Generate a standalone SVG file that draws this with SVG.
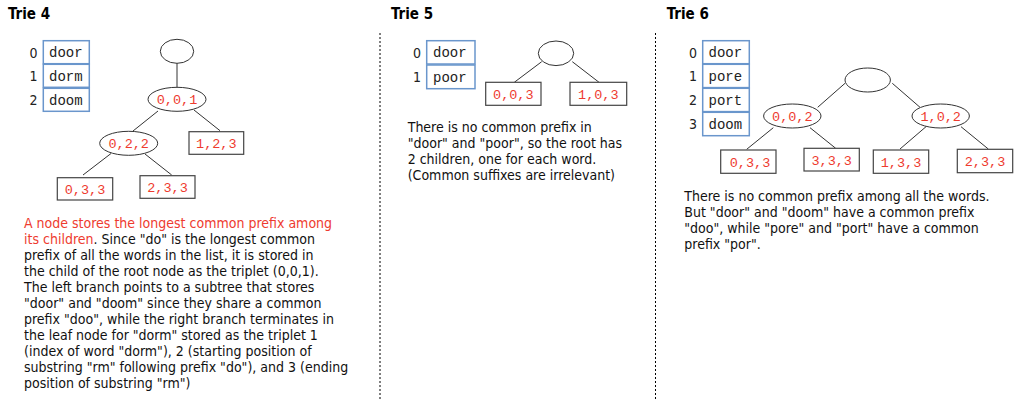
<svg xmlns="http://www.w3.org/2000/svg" width="1024" height="401" viewBox="0 0 1024 401">
<style>
.title{font-family:"DejaVu Sans Condensed","DejaVu Sans",sans-serif;font-stretch:condensed;font-weight:bold;font-size:15px;fill:#000}
.body{font-family:"DejaVu Sans Condensed","DejaVu Sans",sans-serif;font-stretch:condensed;font-size:14px;fill:#111}
.idx{font-family:"DejaVu Sans Condensed","DejaVu Sans",sans-serif;font-stretch:condensed;font-size:14px;fill:#222}
.red{fill:#ee3b2f}
.word{font-family:"Liberation Mono",monospace;font-size:14px;fill:#222}
.trip{font-family:"Liberation Mono",monospace;font-size:13.5px;fill:#ee3b2f;text-anchor:middle}
.wbox{fill:#fff;stroke:#6a96cc;stroke-width:1.5}
.node{fill:#fff;stroke:#333;stroke-width:1}
.leaf{fill:#fff;stroke:#444;stroke-width:1.2}
.edge{stroke:#333;stroke-width:1;fill:none}
.sep{stroke:#000;stroke-width:1;stroke-dasharray:2,2}
</style>
<rect width="1024" height="401" fill="#fff"/>

<!-- separators -->
<g id="separators">
<line class="sep" x1="380" y1="33" x2="380" y2="401"/>
<line class="sep" x1="655.5" y1="33" x2="655.5" y2="401"/>
</g>

<!-- ===== Trie 4 ===== -->
<text class="title" x="8" y="19">Trie 4</text>
<g id="t4-words">
<rect class="wbox" x="43.3" y="40.7" width="46" height="23"/>
<rect class="wbox" x="43.3" y="64.3" width="46" height="23"/>
<rect class="wbox" x="43.3" y="88.3" width="46" height="23"/>
<text class="idx" x="29.5" y="57.5">0</text>
<text class="idx" x="29.5" y="81">1</text>
<text class="idx" x="29.5" y="105">2</text>
<text class="word" x="49" y="57">door</text>
<text class="word" x="49" y="80.5">dorm</text>
<text class="word" x="49" y="104.5">doom</text>
</g>
<g id="t4-connectors">
<line class="edge" x1="177" y1="63" x2="177" y2="87.5"/>
<line class="edge" x1="158" y1="111" x2="133" y2="131"/>
<line class="edge" x1="194" y1="110" x2="220" y2="130.7"/>
<line class="edge" x1="111" y1="153.5" x2="83" y2="175"/>
<line class="edge" x1="145" y1="154" x2="171.7" y2="175"/>
</g>
<g id="t4-root"><ellipse class="node" cx="177" cy="51.3" rx="16.7" ry="12"/></g>
<g id="t4-n001"><ellipse class="node" cx="177" cy="99.3" rx="29" ry="12"/><text class="trip" x="177" y="104">0,0,1</text></g>
<g id="t4-n022"><ellipse class="node" cx="128.7" cy="143.3" rx="29" ry="12"/><text class="trip" x="128.7" y="148">0,2,2</text></g>
<g id="t4-l123"><rect class="leaf" x="189" y="131.7" width="54.7" height="22.6"/><text class="trip" x="216.3" y="148">1,2,3</text></g>
<g id="t4-l033"><rect class="leaf" x="57.3" y="177.7" width="55.4" height="22.3"/><text class="trip" x="85" y="194">0,3,3</text></g>
<g id="t4-l233"><rect class="leaf" x="140" y="175.7" width="55" height="22.6"/><text class="trip" x="167.5" y="192">2,3,3</text></g>
<g id="t4-text">
<text class="body" x="24" y="228"><tspan class="red">A node stores the longest common prefix among</tspan></text>
<text class="body" x="24" y="244"><tspan class="red">its children</tspan>. Since "do" is the longest common</text>
<text class="body" x="24" y="260">prefix of all the words in the list, it is stored in</text>
<text class="body" x="24" y="276">the child of the root node as the triplet (0,0,1).</text>
<text class="body" x="24" y="292">The left branch points to a subtree that stores</text>
<text class="body" x="24" y="308">"door" and "doom" since they share a common</text>
<text class="body" x="24" y="324">prefix "doo", while the right branch terminates in</text>
<text class="body" x="24" y="340">the leaf node for "dorm" stored as the triplet 1</text>
<text class="body" x="24" y="356">(index of word "dorm"), 2 (starting position of</text>
<text class="body" x="24" y="372">substring "rm" following prefix "do"), and 3 (ending</text>
<text class="body" x="24" y="388">position of substring "rm")</text>
</g>

<!-- ===== Trie 5 ===== -->
<text class="title" x="391" y="19">Trie 5</text>
<g id="t5-words">
<rect class="wbox" x="426.7" y="40.7" width="48.3" height="23.3"/>
<rect class="wbox" x="426.7" y="65" width="48.3" height="23.7"/>
<text class="idx" x="413" y="57.5">0</text>
<text class="idx" x="413" y="82">1</text>
<text class="word" x="433" y="57">door</text>
<text class="word" x="433" y="81.5">poor</text>
</g>
<g id="t5-connectors">
<line class="edge" x1="541.7" y1="61.7" x2="514.3" y2="82.3"/>
<line class="edge" x1="572.3" y1="61.7" x2="599" y2="82.3"/>
</g>
<g id="t5-root"><ellipse class="node" cx="556" cy="53.3" rx="17.7" ry="12.3"/></g>
<g id="t5-l003"><rect class="leaf" x="485.7" y="82.3" width="55.3" height="23"/><text class="trip" x="513.3" y="98.5">0,0,3</text></g>
<g id="t5-l103"><rect class="leaf" x="570" y="82.3" width="56.7" height="23"/><text class="trip" x="598.3" y="98.5">1,0,3</text></g>
<g id="t5-text">
<text class="body" x="407.7" y="132">There is no common prefix in</text>
<text class="body" x="407.7" y="148">"door" and "poor", so the root has</text>
<text class="body" x="407.7" y="164">2 children, one for each word.</text>
<text class="body" x="407.7" y="180">(Common suffixes are irrelevant)</text>
</g>

<!-- ===== Trie 6 ===== -->
<text class="title" x="666.7" y="19">Trie 6</text>
<g id="t6-words">
<rect class="wbox" x="702.7" y="40.7" width="46.6" height="23"/>
<rect class="wbox" x="702.7" y="64.3" width="46.6" height="23.3"/>
<rect class="wbox" x="702.7" y="88.3" width="46.6" height="23.3"/>
<rect class="wbox" x="702.7" y="112.3" width="46.6" height="23.4"/>
<text class="idx" x="689" y="57.5">0</text>
<text class="idx" x="689" y="81">1</text>
<text class="idx" x="689" y="105">2</text>
<text class="idx" x="689" y="129">3</text>
<text class="word" x="708.5" y="57">door</text>
<text class="word" x="708.5" y="80.5">pore</text>
<text class="word" x="708.5" y="104.5">port</text>
<text class="word" x="708.5" y="128.5">doom</text>
</g>
<g id="t6-connectors">
<line class="edge" x1="845" y1="83.3" x2="817.7" y2="107.3"/>
<line class="edge" x1="892.3" y1="83.3" x2="920" y2="107.3"/>
<line class="edge" x1="773.3" y1="127.7" x2="746.7" y2="149.3"/>
<line class="edge" x1="810" y1="127.7" x2="835.7" y2="148.3"/>
<line class="edge" x1="926" y1="126.7" x2="900" y2="149"/>
<line class="edge" x1="961" y1="126.7" x2="988.3" y2="149"/>
</g>
<g id="t6-root"><ellipse class="node" cx="867.7" cy="80" rx="22.7" ry="12"/></g>
<g id="t6-n002"><ellipse class="node" cx="792.3" cy="116" rx="28.7" ry="12"/><text class="trip" x="792.3" y="120.7">0,0,2</text></g>
<g id="t6-n102"><ellipse class="node" cx="940.7" cy="116" rx="28.7" ry="12"/><text class="trip" x="940.7" y="120.7">1,0,2</text></g>
<g id="t6-l033"><rect class="leaf" x="720.7" y="150" width="55.3" height="23.3"/><text class="trip" x="750" y="166.5">0,3,3</text></g>
<g id="t6-l333"><rect class="leaf" x="804" y="148.3" width="55.3" height="22.7"/><text class="trip" x="831.7" y="164.5">3,3,3</text></g>
<g id="t6-l133"><rect class="leaf" x="873.3" y="150" width="55.4" height="23.3"/><text class="trip" x="901" y="166.5">1,3,3</text></g>
<g id="t6-l233"><rect class="leaf" x="957.3" y="149.3" width="55.4" height="23.4"/><text class="trip" x="985" y="166">2,3,3</text></g>
<g id="t6-text">
<text class="body" x="684.3" y="201">There is no common prefix among all the words.</text>
<text class="body" x="684.3" y="217">But "door" and "doom" have a common prefix</text>
<text class="body" x="684.3" y="233">"doo", while "pore" and "port" have a common</text>
<text class="body" x="684.3" y="249">prefix "por".</text>
</g>
</svg>
